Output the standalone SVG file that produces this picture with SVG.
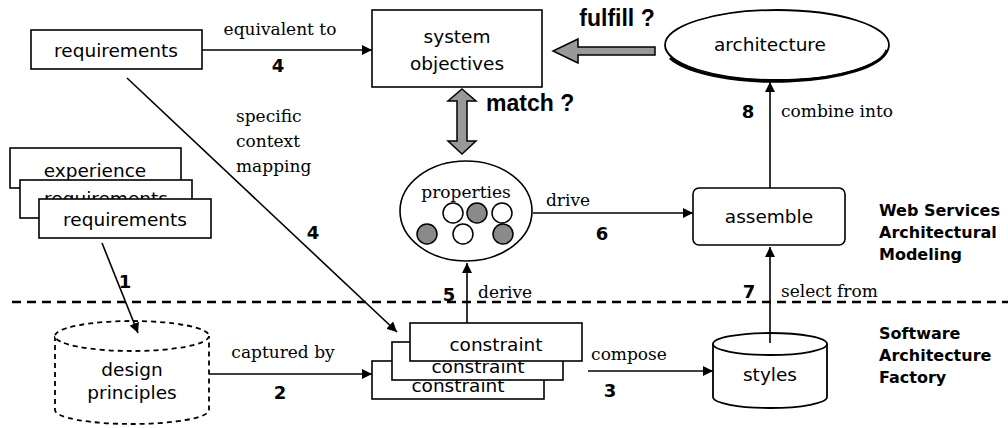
<svg xmlns="http://www.w3.org/2000/svg" width="1008" height="428" viewBox="0 0 1008 428">
<style>
.box{fill:#fff;stroke:#000;stroke-width:1.6}
.node{font-family:"DejaVu Sans","Liberation Sans",sans-serif;font-size:18.5px;text-anchor:middle;fill:#000}
.lbl{font-family:"DejaVu Serif","Liberation Serif",serif;font-size:17px;fill:#000}
.num{font-family:"DejaVu Sans","Liberation Sans",sans-serif;font-weight:bold;font-size:18px;fill:#000}
.big{font-family:"Liberation Sans","Arial",sans-serif;font-weight:bold;font-size:23px;fill:#000}
.side{font-family:"DejaVu Sans","Liberation Sans",sans-serif;font-weight:bold;font-size:16px;fill:#000}
.conn{fill:none;stroke:#000;stroke-width:1.6}
.blk{fill:#999;stroke:#000;stroke-width:1.5}
.dot{fill:#fff;stroke:#000;stroke-width:1.5}
.dotf{fill:#8a8a8a;stroke:#000;stroke-width:1.5}
</style>
<defs>
<marker id="ah" viewBox="0 0 10 10" refX="10" refY="5" markerWidth="10" markerHeight="10" markerUnits="userSpaceOnUse" orient="auto">
<path d="M0,0 L10,5 L0,10 z" fill="#000"/>
</marker>
</defs>

<!-- separator -->
<line x1="12" y1="302" x2="1008" y2="302" stroke="#000" stroke-width="2.5" stroke-dasharray="9,6"/>

<g id="requirements-top">
<rect class="box" x="31" y="30" width="171" height="39"/>
<text class="node" x="116" y="57">requirements</text>
</g>

<g id="system-objectives">
<rect class="box" x="372" y="10" width="170" height="77"/>
<text class="node" x="457" y="43">system</text>
<text class="node" x="457" y="70">objectives</text>
</g>

<g id="architecture">
<ellipse cx="777" cy="45" rx="112" ry="35" fill="#fff" stroke="#000" stroke-width="1.8"/>
<path d="M670,58 A112,35 0 0 0 887,50" fill="none" stroke="#000" stroke-width="3"/>
<text class="node" x="770" y="51">architecture</text>
</g>

<g id="properties">
<ellipse cx="466" cy="211" rx="66" ry="50" fill="#fff" stroke="#000" stroke-width="1.6"/>
<text class="lbl" x="466" y="198" text-anchor="middle">properties</text>
<circle class="dot" cx="453" cy="213" r="10"/>
<circle class="dotf" cx="477" cy="213" r="10"/>
<circle class="dot" cx="502" cy="213" r="10"/>
<circle class="dotf" cx="427" cy="234" r="10"/>
<circle class="dot" cx="463" cy="234" r="10"/>
<circle class="dotf" cx="503" cy="234" r="10"/>
</g>

<g id="assemble">
<rect class="box" x="693" y="188" width="152" height="57" rx="6"/>
<text class="node" x="769" y="223">assemble</text>
</g>

<g id="experience-stack">
<rect class="box" x="10" y="148" width="171" height="40"/>
<text class="node" x="95" y="177">experience</text>
<rect class="box" x="20" y="180" width="172" height="38"/>
<text class="node" x="106" y="205">requirements</text>
<rect class="box" x="39" y="199" width="172" height="39"/>
<text class="node" x="125" y="226">requirements</text>
</g>

<g id="design-principles">
<path d="M55,336 L55,410 A77,14 0 0 0 209,410 L209,336" fill="#fff" stroke="#000" stroke-width="1.8" stroke-dasharray="5,4"/>
<ellipse cx="132" cy="336" rx="77" ry="15" fill="#fff" stroke="#000" stroke-width="1.8" stroke-dasharray="5,4"/>
<text class="node" x="132" y="376">design</text>
<text class="node" x="132" y="399">principles</text>
</g>

<g id="constraint-stack">
<rect class="box" x="372" y="361" width="172" height="38"/>
<text class="node" x="458" y="392">constraint</text>
<rect class="box" x="392" y="342" width="171" height="38"/>
<text class="node" x="478" y="373">constraint</text>
<rect class="box" x="410" y="323" width="172" height="38"/>
<text class="node" x="496" y="351">constraint</text>
</g>

<g id="styles">
<path d="M713,344 L713,397 A57,11 0 0 0 827,397 L827,344" fill="#fff" stroke="#000" stroke-width="1.8"/>
<ellipse cx="770" cy="344" rx="57" ry="11" fill="#fff" stroke="#000" stroke-width="1.8"/>
<text class="node" x="770" y="381">styles</text>
</g>

<g id="web-services-label">
<text class="side" x="879" y="216">Web Services</text>
<text class="side" x="879" y="238">Architectural</text>
<text class="side" x="879" y="260">Modeling</text>
</g>

<g id="factory-label">
<text class="side" x="879" y="339">Software</text>
<text class="side" x="879" y="361">Architecture</text>
<text class="side" x="879" y="383">Factory</text>
</g>

<g id="connectors">
<line class="conn" x1="202" y1="50" x2="372" y2="50" marker-end="url(#ah)"/>
<text class="lbl" x="280" y="35" text-anchor="middle">equivalent to</text>
<text class="num" x="278" y="72" text-anchor="middle">4</text>

<path class="blk" d="M655,47 L578,47 L578,39 L553,51 L578,63 L578,55 L655,55 z"/>
<text class="big" x="617" y="26" text-anchor="middle">fulfill ?</text>

<path class="blk" d="M462,89 L476,101 L467,101 L467,141 L476,141 L462,154 L448,141 L457,141 L457,101 L448,101 z"/>
<text class="big" x="486" y="111">match ?</text>

<line class="conn" x1="770" y1="188" x2="770" y2="82" marker-end="url(#ah)"/>
<text class="num" x="748" y="118" text-anchor="middle">8</text>
<text class="lbl" x="781" y="117">combine into</text>

<line class="conn" x1="533" y1="213" x2="693" y2="213" marker-end="url(#ah)"/>
<text class="lbl" x="568" y="206" text-anchor="middle">drive</text>
<text class="num" x="602" y="240" text-anchor="middle">6</text>

<line class="conn" x1="467" y1="323" x2="467" y2="263" marker-end="url(#ah)"/>
<text class="num" x="449" y="301" text-anchor="middle">5</text>
<text class="lbl" x="478" y="298">derive</text>

<line class="conn" x1="770" y1="343" x2="770" y2="247" marker-end="url(#ah)"/>
<text class="num" x="749" y="298" text-anchor="middle">7</text>
<text class="lbl" x="781" y="297">select from</text>

<line class="conn" x1="127" y1="78" x2="397" y2="332" marker-end="url(#ah)"/>
<text class="lbl" x="236" y="122">specific</text>
<text class="lbl" x="236" y="147">context</text>
<text class="lbl" x="236" y="172">mapping</text>
<text class="num" x="313" y="239" text-anchor="middle">4</text>

<line class="conn" x1="102" y1="243" x2="138" y2="333" marker-end="url(#ah)"/>
<text class="num" x="125" y="288" text-anchor="middle">1</text>

<line class="conn" x1="209" y1="374" x2="372" y2="374" marker-end="url(#ah)"/>
<text class="lbl" x="283" y="358" text-anchor="middle">captured by</text>
<text class="num" x="280" y="399" text-anchor="middle">2</text>

<line class="conn" x1="588" y1="371" x2="713" y2="371" marker-end="url(#ah)"/>
<text class="lbl" x="629" y="360" text-anchor="middle">compose</text>
<text class="num" x="610" y="397" text-anchor="middle">3</text>
</g>
</svg>
